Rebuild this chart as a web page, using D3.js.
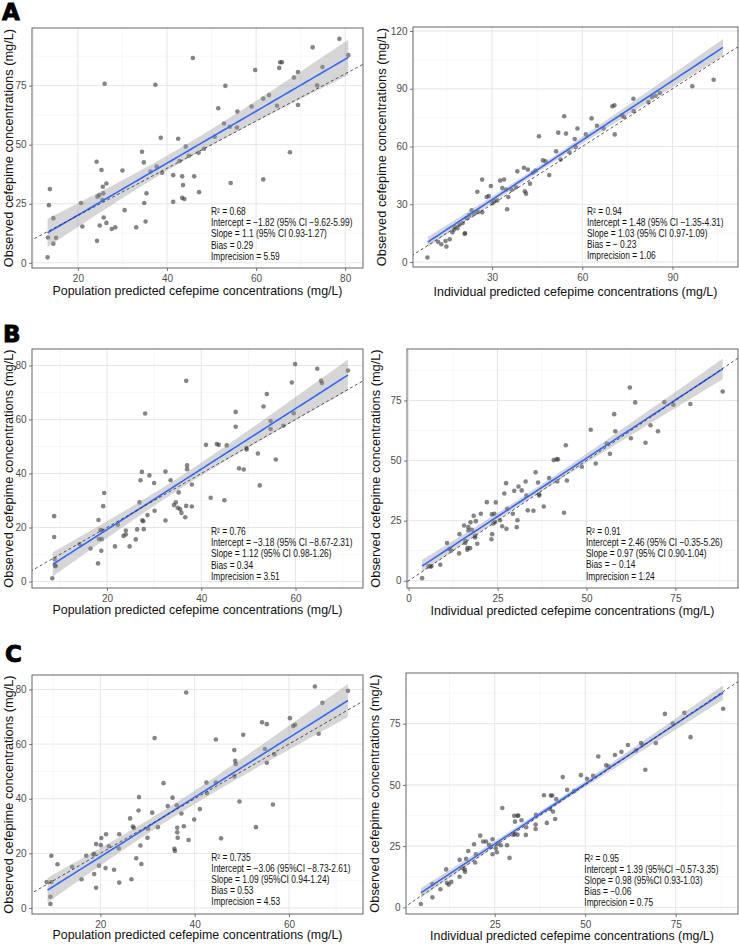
<!DOCTYPE html>
<html><head><meta charset="utf-8">
<script src="https://cdn.jsdelivr.net/npm/d3@7"></script>
<style>body{margin:0;background:#fff}svg{display:block}</style>
</head><body>
<svg id="chart" width="739" height="946"></svg>
<script>
// ---------- DATA (observed vs predicted, mg/L) ----------
const popA = [[78.7,94.8],[72.7,91.2],[80.7,87.9],[45.8,86.7],[65.4,84.9],[65.8,84.9],[65.2,82.5],[59.8,81.6],[69.4,80.8],[74.9,82.9],[68.5,78.4],[26.0,75.8],[37.4,75.4],[53.1,74.9],[73.7,75.1],[62.9,71.0],[61.6,69.5],[51.5,65.4],[64.7,66.5],[69.4,66.8],[59.0,66.2],[55.8,64.0],[52.8,59.0],[55.7,57.3],[54.1,57.6],[50.7,53.4],[38.6,52.9],[42.5,52.5],[44.2,49.2],[48.3,48.3],[47.1,46.6],[67.6,46.8],[34.4,47.0],[24.2,42.8],[34.8,42.5],[42.8,43.1],[44.9,45.3],[37.7,40.7],[38.9,38.1],[25.3,39.3],[30.0,39.1],[41.4,37.1],[43.4,36.6],[46.1,36.6],[26.4,33.6],[43.6,32.9],[25.6,32.2],[54.3,33.8],[61.6,35.3],[35.4,29.4],[47.2,29.9],[25.7,29.4],[24.8,28.7],[24.4,28.0],[43.4,27.5],[43.9,27.0],[25.5,26.6],[41.4,25.8],[34.9,25.3],[20.7,25.3],[13.7,31.2],[13.5,24.4],[30.5,22.3],[35.2,17.5],[26.4,16.9],[25.8,19.2],[14.5,18.9],[21.0,15.4],[24.9,15.8],[28.4,15.0],[27.6,14.3],[33.1,15.0],[13.3,10.7],[15.1,10.6],[14.5,8.1],[24.3,9.3],[13.2,2.3],[36.3,38.6]];
const indA = [[103.7,94.7],[96.6,91.3],[85.8,87.8],[84.4,86.4],[82.0,83.1],[77.0,84.8],[77.1,78.4],[73.9,75.3],[70.0,80.9],[70.7,81.4],[70.8,66.3],[64.9,70.8],[63.1,74.6],[54.0,75.7],[54.6,66.7],[52.0,67.2],[58.4,69.4],[61.2,66.3],[57.5,63.9],[45.6,65.3],[51.3,57.5],[55.7,57.0],[52.8,53.2],[46.9,52.8],[47.8,52.3],[49.0,45.2],[26.7,42.8],[25.1,36.5],[29.6,39.5],[32.7,42.3],[34.0,42.9],[38.4,47.1],[40.6,49.0],[41.9,48.0],[42.6,40.7],[40.9,36.7],[41.3,35.5],[35.0,27.4],[35.4,33.8],[34.7,37.7],[28.9,34.3],[28.2,33.8],[30.7,31.5],[30.1,30.5],[31.7,32.0],[23.2,26.8],[26.7,25.8],[25.3,26.0],[21.5,22.7],[19.2,19.4],[20.9,14.7],[21.0,14.9],[16.8,15.4],[17.3,16.8],[15.9,11.8],[14.5,10.9],[13.1,9.2],[14.8,8.0],[8.5,2.3],[22.4,24.2],[20.2,20.3],[17.8,18.2],[33.4,38.4],[43.6,46.4],[57.8,59.7],[67.1,69.3],[73.2,76.2],[83.2,85.7],[36.5,37.5],[38.0,38.8],[44.5,47.5],[24.0,25.0],[18.5,17.5],[12.0,10.5]];
const popB = [[71.1,78.1],[59.9,80.5],[64.6,78.8],[65.4,74.3],[65.6,73.5],[59.2,73.7],[53.9,69.4],[53.2,64.8],[36.8,74.3],[28.1,62.2],[47.3,62.8],[47.3,57.3],[54.7,59.4],[54.7,56.5],[59.6,62.3],[57.4,57.7],[41.0,50.6],[43.3,50.9],[43.7,50.6],[45.4,50.4],[49.6,49.4],[49.6,48.9],[52.0,47.4],[55.8,45.2],[48.0,41.9],[49.0,41.5],[52.4,35.6],[42.0,31.0],[44.9,30.1],[37.0,43.0],[37.0,41.6],[38.0,35.9],[38.0,27.8],[36.8,28.0],[27.4,40.6],[29.0,39.3],[27.1,37.5],[32.4,40.7],[30.0,36.5],[33.5,37.5],[30.1,26.2],[35.2,33.0],[34.6,29.3],[34.2,28.3],[35.0,27.3],[35.5,26.8],[35.8,25.4],[36.6,23.8],[32.4,22.6],[28.6,24.6],[26.9,29.3],[27.5,22.7],[27.7,22.3],[27.8,19.4],[26.4,19.3],[26.1,15.6],[24.8,13.0],[24.0,18.9],[24.0,17.4],[23.5,16.9],[21.7,13.0],[19.4,32.8],[19.2,27.9],[18.2,22.8],[18.6,19.1],[19.0,18.9],[18.3,15.7],[18.9,15.7],[18.8,11.4],[16.5,12.2],[18.1,6.7],[14.2,13.8],[8.8,24.2],[8.8,16.5],[8.9,8.3],[9.0,5.9],[9.1,5.7],[8.4,1.2],[22.3,21.0]];
const indB = [[88.3,78.7],[62.2,80.4],[63.7,74.2],[71.9,74.3],[74.4,73.2],[79.2,73.5],[57.8,69.3],[58.1,62.2],[51.2,62.8],[62.5,59.3],[70.1,62.2],[68.0,64.7],[66.6,57.4],[55.7,57.1],[56.6,52.8],[52.6,48.8],[48.7,47.4],[44.2,56.4],[40.8,50.2],[41.6,50.5],[42.0,50.5],[44.5,41.7],[41.8,41.3],[43.7,28.3],[35.7,45.1],[39.5,42.7],[36.4,40.9],[36.7,36.0],[36.7,35.5],[38.0,30.9],[35.1,29.1],[33.5,29.3],[32.9,41.3],[30.9,39.2],[31.8,37.6],[29.7,37.4],[30.6,25.2],[30.4,22.3],[33.1,35.4],[27.4,40.6],[26.9,36.3],[24.5,32.6],[22.0,32.7],[27.7,29.9],[29.3,27.9],[24.1,27.9],[23.4,27.6],[20.3,27.9],[18.9,24.8],[18.3,27.0],[24.3,24.4],[23.8,23.8],[26.3,22.7],[27.5,21.6],[17.4,24.3],[16.8,22.3],[15.6,23.0],[19.3,15.4],[18.7,18.7],[18.7,18.0],[23.3,17.3],[23.5,19.4],[16.8,20.9],[16.0,16.6],[15.9,15.7],[16.6,13.7],[16.5,12.9],[14.3,19.4],[14.2,11.4],[11.5,13.2],[12.0,12.6],[10.8,15.7],[8.9,6.7],[6.1,6.0],[6.4,6.0],[5.6,6.0],[3.8,1.1],[25.7,25.2],[17.8,21.2],[17.3,13.6]];
const popC = [[72.5,79.5],[65.5,81.1],[67.1,75.1],[38.2,78.9],[60.2,69.5],[60.9,66.6],[61.3,67.1],[54.3,68.0],[55.3,67.3],[66.3,63.8],[50.3,63.4],[44.5,61.7],[31.5,62.2],[54.9,58.2],[56.9,56.3],[48.4,57.8],[48.6,53.9],[48.7,52.7],[55.3,53.2],[48.4,48.2],[44.5,45.9],[42.5,45.9],[42.6,42.0],[49.5,39.0],[56.6,37.9],[53.0,29.6],[45.6,25.5],[41.1,36.2],[39.9,32.4],[33.4,45.7],[35.3,40.4],[34.3,37.3],[36.2,37.6],[37.2,34.6],[37.7,29.9],[36.3,29.4],[36.3,27.7],[36.4,25.7],[38.7,24.9],[35.7,21.7],[35.8,20.9],[31.0,34.9],[32.2,29.6],[30.1,29.0],[30.0,25.7],[28.2,40.6],[28.1,35.7],[26.3,32.8],[26.9,29.8],[27.1,29.3],[27.6,18.2],[28.7,16.1],[28.5,22.9],[26.6,10.5],[24.0,27.0],[23.9,21.8],[24.0,9.3],[22.9,14.0],[21.8,22.6],[21.2,27.0],[21.1,14.6],[20.2,25.6],[20.1,23.0],[19.7,15.5],[19.1,23.4],[18.7,19.8],[18.5,19.6],[19.1,7.4],[18.7,12.4],[17.0,19.1],[16.0,10.5],[14.0,15.1],[10.9,16.0],[9.6,19.1],[8.6,9.5],[9.6,9.5],[9.4,4.1],[9.4,1.5]];
const indC = [[88.1,81.1],[72.0,79.0],[77.4,79.4],[74.2,75.1],[79.1,69.5],[69.5,67.1],[65.4,67.1],[65.8,66.5],[61.8,66.3],[66.6,56.2],[64.0,64.1],[60.0,63.5],[58.2,62.2],[53.6,61.6],[55.8,58.0],[52.2,53.7],[50.5,52.5],[48.8,54.0],[43.8,53.2],[45.0,48.0],[42.0,44.2],[40.5,45.7],[40.9,45.7],[38.6,45.8],[41.1,39.1],[41.7,36.1],[39.4,34.5],[36.4,37.8],[36.3,33.8],[36.3,32.0],[33.6,29.6],[32.4,35.6],[31.5,37.5],[31.3,37.4],[30.4,37.4],[30.6,35.0],[31.3,29.7],[30.5,29.9],[30.1,29.7],[33.7,32.7],[29.1,20.2],[27.1,40.6],[24.4,27.8],[23.4,25.6],[21.0,29.3],[21.8,26.9],[22.6,26.9],[25.8,26.0],[26.7,25.4],[28.4,25.4],[24.4,21.7],[25.6,22.5],[19.3,25.8],[19.8,21.7],[19.6,18.3],[17.7,23.0],[17.1,19.8],[15.3,19.4],[16.1,16.0],[16.7,15.5],[16.8,14.5],[15.3,12.5],[11.6,15.5],[11.8,10.0],[12.3,9.3],[13.0,10.4],[10.0,7.4],[7.8,4.1],[4.6,1.4],[7.8,9.5],[25.3,24.1],[23.9,24.7],[40.3,40.2],[47.0,47.5],[56.5,57.5]];

const panelData = [popA, indA, popB, indB, popC, indC];
const fitIntercepts = [-1.82, 1.48, -3.18, 2.46, -3.06, 1.39];
const fitSlopes = [1.1, 1.03, 1.12, 0.97, 1.09, 0.98];
const fitRanges = [[13.2, 80.7], [8.6, 106.8], [8.5, 71.1], [3.8, 88.3], [8.8, 72.5], [4.6, 88.1]];
const xDomains = [[9.7, 84.0], [3.7, 111.8], [4.1, 74.3], [-0.45, 92.6], [5.5, 75.7], [0.5, 92.2]];
const yDomains = [[-2.2, 99.4], [-2.6, 122.1], [-2.4, 86.1], [-3.0, 96.4], [-2.2, 85.3], [-2.7, 95.7]];
const xTicks = [[20, 40, 60, 80], [30, 60, 90], [20, 40, 60], [0, 25, 50, 75], [20, 40, 60], [25, 50, 75]];
const yTicks = [[0, 25, 50, 75], [0, 30, 60, 90, 120], [0, 20, 40, 60, 80], [0, 25, 50, 75], [0, 20, 40, 60, 80], [0, 25, 50, 75]];
const xTitles = ["Population predicted cefepime concentrations (mg/L)", "Individual predicted cefepime concentrations (mg/L)",
                 "Population predicted cefepime concentrations (mg/L)", "Individual predicted cefepime concentrations (mg/L)",
                 "Population predicted cefepime concentrations (mg/L)", "Individual predicted cefepime concentrations (mg/L)"];
const yTitle = "Observed cefepime concentrations (mg/L)";
const rowLetters = ["A", "B", "C"];
const statLines = [
  ["R\u00B2 = 0.68", "Intercept = \u22121.82 (95% CI \u22129.62-5.99)", "Slope = 1.1 (95% CI 0.93-1.27)", "Bias = 0.29", "Imprecision = 5.59"],
  ["R\u00B2 = 0.94", "Intercept = 1.48 (95% CI \u22121.35-4.31)", "Slope = 1.03 (95% CI 0.97-1.09)", "Bias = \u2212 0.23", "Imprecision = 1.06"],
  ["R\u00B2 = 0.76", "Intercept = \u22123.18 (95% CI \u22128.67-2.31)", "Slope = 1.12 (95% CI 0.98-1.26)", "Bias = 0.34", "Imprecision = 3.51"],
  ["R\u00B2 = 0.91", "Intercept = 2.46 (95% CI \u22120.35-5.26)", "Slope = 0.97 (95% CI 0.90-1.04)", "Bias = \u2212 0.14", "Imprecision = 1.24"],
  ["R\u00B2 = 0.735", "Intercept = \u22123.06 (95%CI \u22128.73-2.61)", "Slope = 1.09 (95%CI 0.94-1.24)", "Bias = 0.53", "Imprecision = 4.53"],
  ["R\u00B2 = 0.95", "Intercept = 1.39 (95%CI \u22120.57-3.35)", "Slope = 0.98 (95%CI 0.93-1.03)", "Bias = \u22120.06", "Imprecision = 0.75"]
];

// ---------- LAYOUT ----------
const boxes = [
  {x0: 32, x1: 363, y0: 28, y1: 268}, {x0: 413, x1: 738, y0: 27, y1: 267},
  {x0: 32, x1: 363, y0: 349, y1: 588}, {x0: 407, x1: 738, y0: 349, y1: 588},
  {x0: 32, x1: 363, y0: 675, y1: 914}, {x0: 406, x1: 738, y0: 673, y1: 914}
];
const statPos = [[211, 214.8, 11.35], [587, 214.5, 11.25], [211, 534.5, 11.4], [586, 535.2, 11.1], [211.3, 860.8, 10.95], [584.3, 861.5, 11.1]];
const xTitleOffset = [27, 28.5, 26, 27, 25, 25.5];
const letterPos = [[2, 20], [3, 342], [5, 662]];

const svg = d3.select("#chart");
svg.append("rect").attr("width", 739).attr("height", 946).attr("fill", "#fff");

const tcrit = 1.99;

panelData.forEach((pts, i) => {
  const b = boxes[i];
  const x = d3.scaleLinear().domain(xDomains[i]).range([b.x0, b.x1]);
  const y = d3.scaleLinear().domain(yDomains[i]).range([b.y1, b.y0]);
  const g = svg.append("g");
  const clipId = "clip" + i;
  svg.append("clipPath").attr("id", clipId).append("rect")
    .attr("x", b.x0).attr("y", b.y0).attr("width", b.x1 - b.x0).attr("height", b.y1 - b.y0);

  // minor grid
  const minor = (ticks, dom) => {
    const step = ticks[1] - ticks[0];
    const out = [];
    for (let v = ticks[0] - step / 2; v <= dom[1]; v += step) if (v >= dom[0]) out.push(v);
    return out;
  };
  const grid = g.append("g").attr("clip-path", `url(#${clipId})`);
  grid.selectAll(".mx").data(minor(xTicks[i], xDomains[i])).join("line")
    .attr("x1", d => x(d)).attr("x2", d => x(d)).attr("y1", b.y0).attr("y2", b.y1)
    .attr("stroke", "#f2f2f2").attr("stroke-width", 0.6);
  grid.selectAll(".my").data(minor(yTicks[i], yDomains[i])).join("line")
    .attr("y1", d => y(d)).attr("y2", d => y(d)).attr("x1", b.x0).attr("x2", b.x1)
    .attr("stroke", "#f2f2f2").attr("stroke-width", 0.6);
  grid.selectAll(".Mx").data(xTicks[i]).join("line")
    .attr("x1", d => x(d)).attr("x2", d => x(d)).attr("y1", b.y0).attr("y2", b.y1)
    .attr("stroke", "#e6e6e6").attr("stroke-width", 1);
  grid.selectAll(".My").data(yTicks[i]).join("line")
    .attr("y1", d => y(d)).attr("y2", d => y(d)).attr("x1", b.x0).attr("x2", b.x1)
    .attr("stroke", "#e6e6e6").attr("stroke-width", 1);

  // points
  g.append("g").selectAll("circle").data(pts).join("circle")
    .attr("cx", d => x(d[0])).attr("cy", d => y(d[1])).attr("r", 2.3)
    .attr("fill", "#3a3a3a").attr("fill-opacity", 0.62);

  // regression fit and confidence band
  const a0 = fitIntercepts[i], a1 = fitSlopes[i];
  const n = pts.length;
  const xbar = d3.mean(pts, d => d[0]);
  const sxx = d3.sum(pts, d => (d[0] - xbar) ** 2);
  const s = Math.sqrt(d3.sum(pts, d => (d[1] - (a0 + a1 * d[0])) ** 2) / (n - 2));
  const xs = d3.range(0, 81).map(k => fitRanges[i][0] + (fitRanges[i][1] - fitRanges[i][0]) * k / 80);
  const band = xs.map(v => {
    const yh = a0 + a1 * v;
    const h = tcrit * s * Math.sqrt(1 / n + (v - xbar) ** 2 / sxx);
    return {x: v, lo: yh - h, hi: yh + h, y: yh};
  });
  g.append("path").datum(band).attr("clip-path", `url(#${clipId})`)
    .attr("d", d3.area().x(d => x(d.x)).y0(d => y(d.lo)).y1(d => y(d.hi)))
    .attr("fill", "#999999").attr("fill-opacity", 0.4);
  g.append("path").datum(band)
    .attr("d", d3.line().x(d => x(d.x)).y(d => y(d.y)))
    .attr("fill", "none").attr("stroke", "#3366FF").attr("stroke-width", 1.6);

  // identity line
  const dmin = Math.min(xDomains[i][0], yDomains[i][0]) - 5, dmax = Math.max(xDomains[i][1], yDomains[i][1]) + 5;
  g.append("line").attr("clip-path", `url(#${clipId})`)
    .attr("x1", x(dmin)).attr("y1", y(dmin)).attr("x2", x(dmax)).attr("y2", y(dmax))
    .attr("stroke", "#222").attr("stroke-width", 0.75).attr("stroke-dasharray", "3,2.5");

  // border
  g.append("rect").attr("x", b.x0).attr("y", b.y0).attr("width", b.x1 - b.x0).attr("height", b.y1 - b.y0)
    .attr("fill", "none").attr("stroke", "#555").attr("stroke-width", 0.9);

  // axes
  const xa = g.append("g").attr("transform", `translate(0,${b.y1})`)
    .call(d3.axisBottom(x).tickValues(xTicks[i]).tickSize(3).tickPadding(3.5).tickFormat(d3.format("d")));
  const ya = g.append("g").attr("transform", `translate(${b.x0},0)`)
    .call(d3.axisLeft(y).tickValues(yTicks[i]).tickSize(3).tickPadding(2.5).tickFormat(d3.format("d")));
  [xa, ya].forEach(ax => {
    ax.select(".domain").remove();
    ax.selectAll(".tick line").attr("stroke", "#555").attr("stroke-width", 0.8);
    ax.selectAll(".tick text").attr("fill", "#4d4d4d").attr("font-size", 10)
      .attr("font-family", "'Liberation Sans', Arial, sans-serif");
  });

  // axis titles
  g.append("text").attr("x", (b.x0 + b.x1) / 2).attr("y", b.y1 + xTitleOffset[i])
    .attr("text-anchor", "middle").attr("font-size", 12.4)
    .attr("font-family", "'Liberation Sans', Arial, sans-serif").attr("fill", "#111")
    .text(xTitles[i]);
  const ytx = (i % 2 === 0) ? 12.5 : b.x0 - 27.5;
  g.append("text").attr("transform", `translate(${ytx},${(b.y0 + b.y1) / 2}) rotate(-90)`)
    .attr("text-anchor", "middle").attr("font-size", 12.8)
    .attr("font-family", "'Liberation Sans', Arial, sans-serif").attr("fill", "#111")
    .text(yTitle);

  // statistics annotation (condensed lettering)
  const sp = statPos[i];
  g.append("g").attr("transform", `translate(${sp[0]},${sp[1]}) scale(0.84,1)`)
    .selectAll("text").data(statLines[i]).join("text")
    .attr("x", 0).attr("y", (d, k) => k * sp[2])
    .attr("font-size", 10).attr("fill", "#111")
    .attr("font-family", "'Liberation Sans', Arial, sans-serif")
    .text(d => d);
});

// row letters
svg.append("g").selectAll("text").data(rowLetters).join("text")
  .attr("x", (d, k) => letterPos[k][0]).attr("y", (d, k) => letterPos[k][1])
  .attr("font-size", 23).attr("font-weight", "bold").attr("fill", "#000")
  .attr("stroke", "#000").attr("stroke-width", 0.9)
  .attr("font-family", "'DejaVu Sans', 'Liberation Sans', sans-serif")
  .text(d => d);
</script>
</body></html>
